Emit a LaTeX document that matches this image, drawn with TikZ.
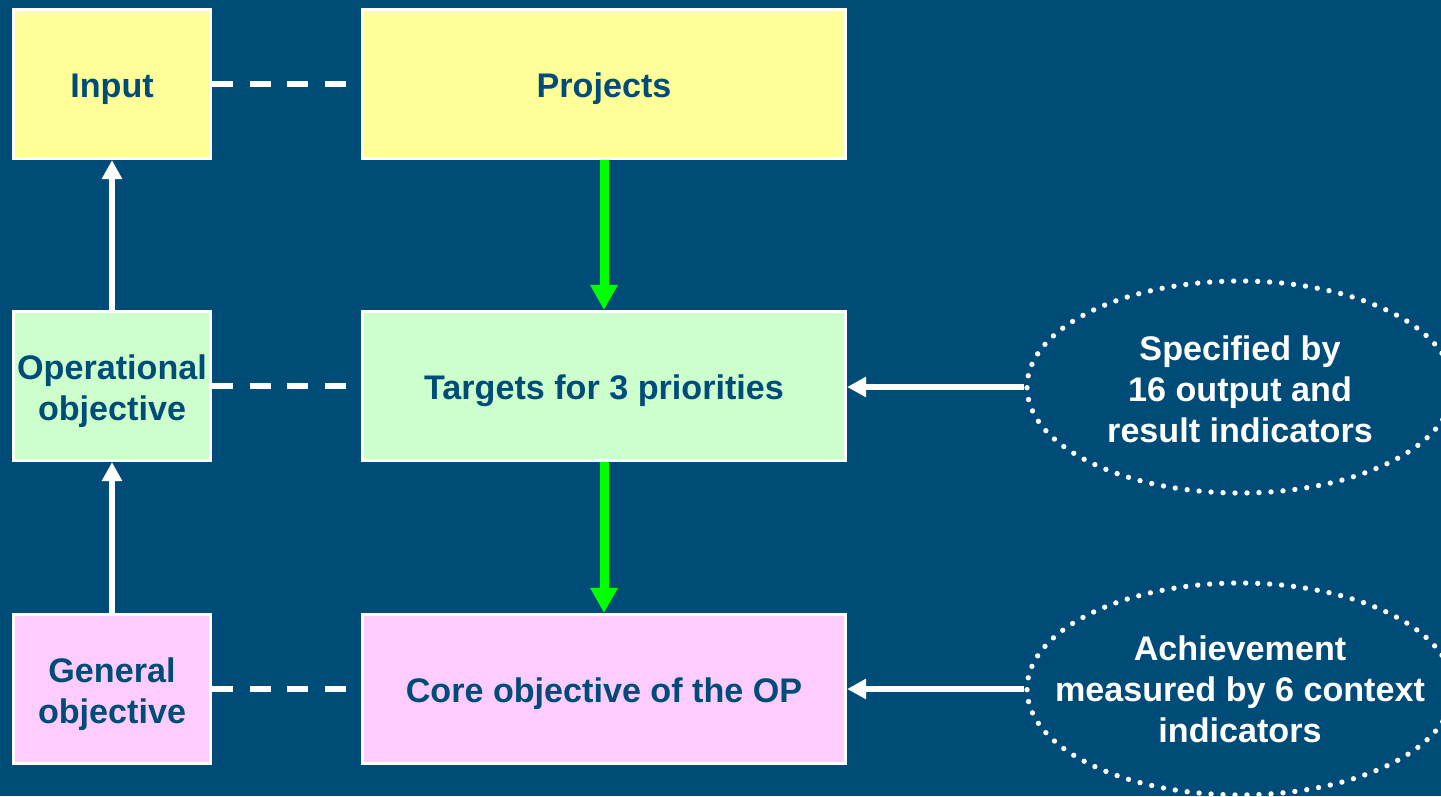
\documentclass[tikz,border=0pt]{standalone}
\usepackage{fontspec}
\setmainfont{Liberation Sans}
\usepackage{tikz}
\usetikzlibrary{arrows.meta, shapes.geometric}
\usepackage{xcolor}

\definecolor{slide}{RGB}{0,76,120}
\definecolor{inputfill}{RGB}{255,255,153}
\definecolor{targetfill}{RGB}{204,255,204}
\definecolor{corefill}{RGB}{255,204,255}
\definecolor{flow}{RGB}{0,255,0}

% extra room above the first line, so the text sits a little low in its box
\newcommand{\topstrut}{\rule{0pt}{26pt}}

\tikzset{
  box/.style={draw=white, line width=2.4pt, text=slide, align=center, inner sep=0pt,
    font=\bfseries\fontsize{25.6}{30.7}\selectfont, minimum height=111.75pt,
    execute at begin node={\topstrut}},
  leftbox/.style={box, minimum width=147.75pt},
  rightbox/.style={box, minimum width=362.25pt},
  indicator/.style={ellipse, draw=white, line width=4pt, dash pattern=on 0pt off 9pt,
    line cap=round, minimum width=319.5pt, minimum height=159pt, inner sep=0pt},
  note/.style={text=white, align=center, font=\bfseries\fontsize{25.6}{30.7}\selectfont},
  link/.style={draw=white, line width=4pt, dash pattern=on 15.75pt off 12.4pt},
  uparrow/.style={draw=white, line width=3.9pt, -{Triangle[length=14.25pt, width=14.5pt]}},
  downarrow/.style={draw=flow, line width=6.75pt, -{Triangle[length=18.75pt, width=19.5pt]}}
}

\begin{document}
\begin{tikzpicture}[x=0.75pt,y=0.75pt,yscale=-1,xscale=1]
%page: 1441 x 796
\useasboundingbox (0,0) rectangle (1441,796);
\fill[slide] (0,0) rectangle (1441,796);

%Top row
\node[leftbox, fill=inputfill] (input) at (112,84) {Input};
\node[rightbox, fill=inputfill] (proj) at (604,84) {Projects};
%Middle row
\node[leftbox, fill=targetfill] (oper) at (112,386) {\topstrut Operational\\objective};
\node[rightbox, fill=targetfill] (targ) at (604,386) {Targets for 3 priorities};
%Bottom row
\node[leftbox, fill=corefill] (gen) at (112,689) {\topstrut General\\objective};
\node[rightbox, fill=corefill] (core) at (604,689) {Core objective of the OP};

%Indicator ellipses
\node[indicator] (spec) at (1240,387) {};
\node[note, yshift=-1.5pt] at (spec) {Specified by\\16 output and\\result indicators};
\node[indicator] (ach) at (1240,689) {};
\node[note] at (ach) {Achievement\\measured by 6 context\\indicators};

%Dashed links
\draw[link] (input) -- (proj);
\draw[link] (oper) -- (targ);
\draw[link] (gen) -- (core);

%Arrows up the left column
\draw[uparrow] (gen) -- (oper);
\draw[uparrow] (oper) -- (input);

%Green arrows down the middle
\draw[downarrow] (proj) -- (targ);
\draw[downarrow] (targ) -- (core);

%From the indicators
\draw[uparrow] (spec.west) -- (targ.east |- spec.west);
\draw[uparrow] (ach.west) -- (core.east);

\end{tikzpicture}
\end{document}
